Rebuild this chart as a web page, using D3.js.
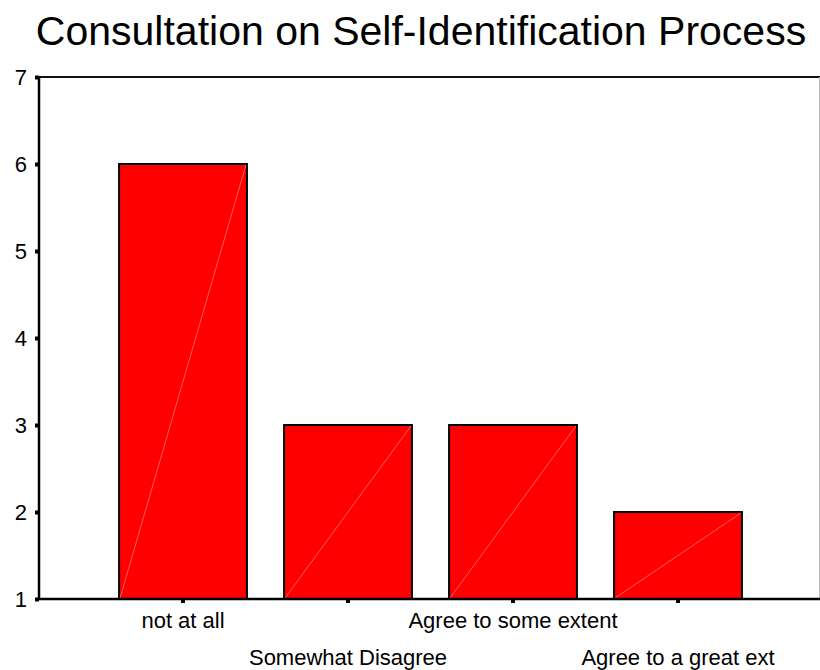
<!DOCTYPE html>
<html>
<head>
<meta charset="utf-8">
<script src="https://cdn.jsdelivr.net/npm/d3@7"></script>
<style>
  html, body { margin: 0; padding: 0; background: #fff; }
  svg { display: block; font-family: Arial, "Liberation Sans", sans-serif; }
</style>
</head>
<body>
<svg id="chart" width="820" height="670"></svg>
<script>
// Responses to the consultation question
const categories = ["not at all", "Somewhat Disagree", "Agree to some extent", "Agree to a great ext"];
const counts = [6, 3, 3, 2];
const yTicks = [1, 2, 3, 4, 5, 6, 7];
const titleText = "Consultation on Self-Identification Process";

const svg = d3.select("#chart");
const W = 820, H = 670;
const plot = { left: 39, right: 819, top: 77, bottom: 599 };

const x = d3.scaleBand()
  .domain(categories)
  .range([100.5, 760.5])
  .paddingInner(0.225)
  .paddingOuter(0.1125);

const y = d3.scaleLinear()
  .domain([1, 7])
  .range([plot.bottom, plot.top]);

// title
svg.append("text")
  .attr("x", 421)
  .attr("y", 45)
  .attr("text-anchor", "middle")
  .attr("font-size", 41)
  .attr("fill", "#000")
  .text(titleText);

// frame: top border and faint right border
svg.append("line")
  .attr("x1", plot.left).attr("x2", W)
  .attr("y1", plot.top).attr("y2", plot.top)
  .attr("stroke", "#111").attr("stroke-width", 2);
svg.append("line")
  .attr("x1", plot.right + 0.5).attr("x2", plot.right + 0.5)
  .attr("y1", plot.top).attr("y2", plot.bottom)
  .attr("stroke", "#bbb").attr("stroke-width", 1);

// bars
const bars = svg.append("g");
bars.selectAll("rect")
  .data(counts)
  .join("rect")
  .attr("x", (d, i) => x(categories[i]))
  .attr("y", d => y(d))
  .attr("width", x.bandwidth())
  .attr("height", d => y(1) - y(d))
  .attr("fill", "#ff0000")
  .attr("stroke", "#000")
  .attr("stroke-width", 2);

// faint diagonal seam across each bar
bars.selectAll("line")
  .data(counts)
  .join("line")
  .attr("x1", (d, i) => x(categories[i]) + 1)
  .attr("y1", y(1) - 1)
  .attr("x2", (d, i) => x(categories[i]) + x.bandwidth() - 1)
  .attr("y2", d => y(d) + 1)
  .attr("stroke", "#ff9a9a")
  .attr("stroke-width", 0.6);

// y axis
const yAxis = svg.append("g")
  .attr("transform", `translate(${plot.left},0)`)
  .call(d3.axisLeft(y).tickValues(yTicks).tickFormat(d3.format("d")).tickSize(4).tickPadding(8));
yAxis.select(".domain").attr("stroke", "#000").attr("stroke-width", 2.5)
  .attr("d", `M0,${plot.top - 1}V${plot.bottom + 1}`);
yAxis.selectAll(".tick line").attr("stroke", "#000").attr("stroke-width", 4);
yAxis.selectAll(".tick text").attr("font-size", 22).attr("fill", "#000")
  .attr("font-family", "Arial, 'Liberation Sans', sans-serif");

// x axis
const xAxis = svg.append("g")
  .attr("transform", `translate(0,${plot.bottom})`)
  .call(d3.axisBottom(x).tickSize(4).tickPadding(0));
xAxis.select(".domain").attr("stroke", "#000").attr("stroke-width", 2.5)
  .attr("d", `M${plot.left},0H${W}`);
xAxis.selectAll(".tick line").attr("stroke", "#000").attr("stroke-width", 4);
xAxis.selectAll(".tick text")
  .attr("font-size", 22)
  .attr("fill", "#000")
  .attr("font-family", "Arial, 'Liberation Sans', sans-serif")
  .attr("dy", null)
  .attr("y", (d, i) => i % 2 === 0 ? 29 : 66);
</script>
</body>
</html>
